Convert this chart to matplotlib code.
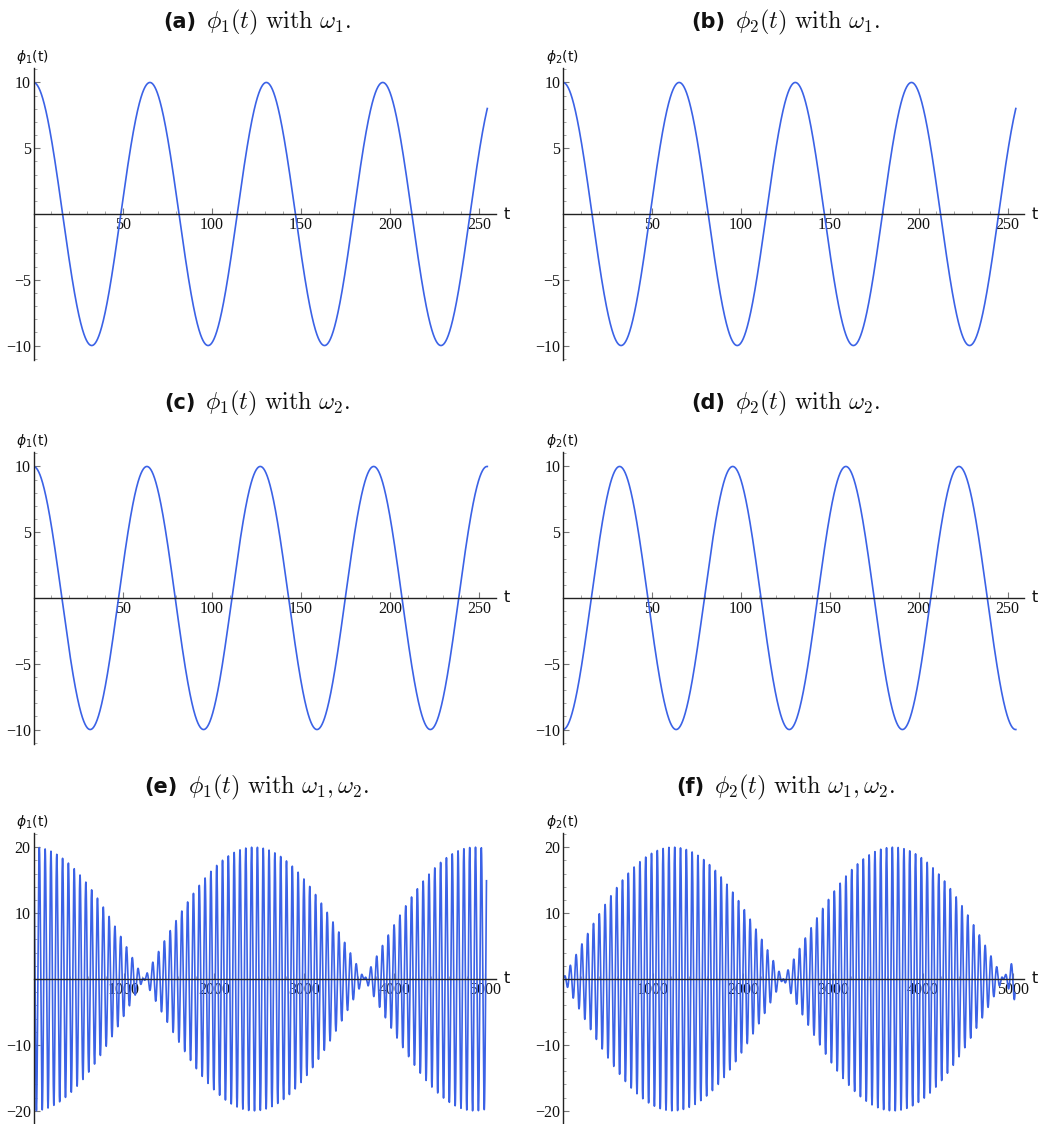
import numpy as np
import matplotlib
matplotlib.use("Agg")
import matplotlib.pyplot as plt
from matplotlib.offsetbox import TextArea, HPacker, AnnotationBbox
from matplotlib.ticker import MultipleLocator, FixedLocator, FixedFormatter

# Normal-mode parameters of the two coupled oscillators
AMPLITUDE = 10.0          # initial amplitude of each mode
OMEGA_1 = 0.0962          # in-phase mode frequency
OMEGA_2 = 0.09877         # anti-phase mode frequency
T_END_SINGLE = 254.6      # time span of single-mode runs
T_END_BEAT = 5020.0       # time span of the two-mode (beat) runs

# Panel captions and axis labels
PANEL_TAGS = ["(a)", "(b)", "(c)", "(d)", "(e)", "(f)"]
PANEL_CAPTIONS = [
    r"$\phi_1(t)\ \mathrm{with}\ \omega_1.$",
    r"$\phi_2(t)\ \mathrm{with}\ \omega_1.$",
    r"$\phi_1(t)\ \mathrm{with}\ \omega_2.$",
    r"$\phi_2(t)\ \mathrm{with}\ \omega_2.$",
    r"$\phi_1(t)\ \mathrm{with}\ \omega_1,\omega_2.$",
    r"$\phi_2(t)\ \mathrm{with}\ \omega_1,\omega_2.$",
]
Y_LABELS = [r"$\phi_1$(t)", r"$\phi_2$(t)"] * 3

# Tick positions
X_MAJOR_SINGLE = [50, 100, 150, 200, 250]
X_MAJOR_BEAT = [1000, 2000, 3000, 4000, 5000]
Y_MAJOR_SINGLE = [-10, -5, 5, 10]
Y_MAJOR_BEAT = [-20, -10, 10, 20]


def mode_curves():
    ts = np.linspace(0, T_END_SINGLE, 4000)
    tb = np.linspace(0, T_END_BEAT, 80000)
    c1s = AMPLITUDE * np.cos(OMEGA_1 * ts)
    c2s = AMPLITUDE * np.cos(OMEGA_2 * ts)
    c1b = AMPLITUDE * np.cos(OMEGA_1 * tb)
    c2b = AMPLITUDE * np.cos(OMEGA_2 * tb)
    return [
        (ts, c1s), (ts, c1s),
        (ts, c2s), (ts, -c2s),
        (tb, c1b + c2b), (tb, c1b - c2b),
    ]


def fmt(v):
    return str(int(v)).replace("-", "\u2212")


W, H = 1043, 1124
fig = plt.figure(figsize=(W / 100, H / 100), dpi=100)

LINE_COLOR = "#3b62e6"
AXIS_COLOR = "#222222"
TEXT_COLOR = "#111111"
col_x = [33.5, 563.0]
col_w = [462.0, 461.0]
row_top = [68.0, 452.0, 833.0]
ax_h = 292.0
title_y = [22.0, 403.0, 787.0]
title_cx = [257.0, 786.0]

curves = mode_curves()

for i, (t, y) in enumerate(curves):
    r, c = divmod(i, 2)
    beat = r == 2
    ax = fig.add_axes([col_x[c] / W, 1 - (row_top[r] + ax_h) / H,
                       col_w[c] / W, ax_h / H])
    ax.plot(t, y, color=LINE_COLOR, lw=1.2, antialiased=True)

    if beat:
        ax.set_xlim(0, 5120)
        ax.set_ylim(-22.15, 22.15)
        xt, yt = X_MAJOR_BEAT, Y_MAJOR_BEAT
        ax.xaxis.set_minor_locator(MultipleLocator(200))
        ax.yaxis.set_minor_locator(MultipleLocator(2))
    else:
        ax.set_xlim(0, 259.2)
        ax.set_ylim(-11.1, 11.1)
        xt, yt = X_MAJOR_SINGLE, Y_MAJOR_SINGLE
        ax.xaxis.set_minor_locator(MultipleLocator(10))
        ax.yaxis.set_minor_locator(MultipleLocator(1))
    ax.xaxis.set_major_locator(FixedLocator(xt))
    ax.xaxis.set_major_formatter(FixedFormatter([fmt(v) for v in xt]))
    ax.yaxis.set_major_locator(FixedLocator(yt))
    ax.yaxis.set_major_formatter(FixedFormatter([fmt(v) for v in yt]))

    for side in ("top", "right"):
        ax.spines[side].set_visible(False)
    ax.spines["bottom"].set_position(("data", 0))
    ax.spines["left"].set_position(("data", 0))
    for side in ("bottom", "left"):
        ax.spines[side].set_color(AXIS_COLOR)
        ax.spines[side].set_linewidth(1.0)

    ax.tick_params(which="major", direction="in", length=4.5, width=0.8,
                   color="#777777", labelsize=11.5, labelcolor=TEXT_COLOR,
                   labelfontfamily="Liberation Serif")
    ax.tick_params(which="minor", direction="in", length=2.5, width=0.6,
                   color="#999999")
    ax.tick_params(axis="x", which="major", pad=2.5)
    ax.tick_params(axis="y", which="major", pad=2.0)
    ax.patch.set_visible(False)

    # axis name at the end of the time axis
    ax.annotate("t", xy=(1, 0), xycoords=("axes fraction", "data"),
                xytext=(8, 0), textcoords="offset pixels",
                ha="left", va="center", fontsize=11.5, family="DejaVu Sans",
                color=TEXT_COLOR)
    # variable name above the vertical axis
    fig.text((col_x[c] - 1) / W, 1 - (row_top[r] - 11) / H, Y_LABELS[i],
             ha="center", va="center", fontsize=10, family="DejaVu Sans",
             math_fontfamily="dejavusans", color=TEXT_COLOR)

    # panel caption: bold sans tag followed by the math caption
    tag = TextArea(PANEL_TAGS[i], textprops=dict(fontsize=15, fontweight="bold",
                                                 family="DejaVu Sans",
                                                 color=TEXT_COLOR))
    cap = TextArea(PANEL_CAPTIONS[i], textprops=dict(fontsize=17.5,
                                                     math_fontfamily="cm",
                                                     color=TEXT_COLOR))
    box = HPacker(children=[tag, cap], align="baseline", pad=0, sep=7)
    ab = AnnotationBbox(box, (title_cx[c] / W, 1 - title_y[r] / H),
                        xycoords="figure fraction", frameon=False,
                        box_alignment=(0.5, 0.5), pad=0)
    fig.add_artist(ab)

fig.savefig("out.png", dpi=100)
